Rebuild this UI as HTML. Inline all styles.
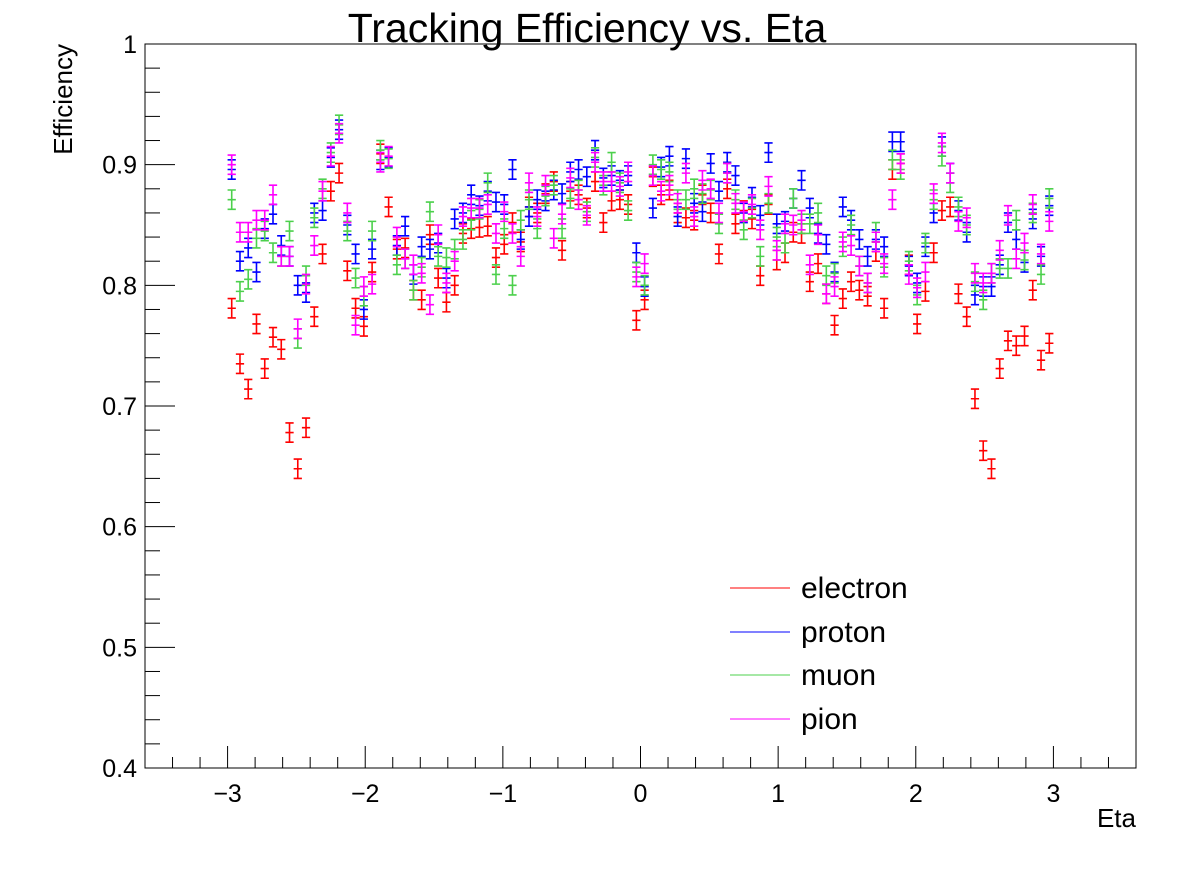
<!DOCTYPE html>
<html><head><meta charset="utf-8"><style>
body{margin:0;background:#fff}
svg{display:block;font-family:"Liberation Sans",Arial,sans-serif}
</style></head><body>
<svg id="chart" width="1196" height="872" viewBox="0 0 1196 872">
<rect width="1196" height="872" fill="#fff"/>
<text x="587" y="42" font-size="41" text-anchor="middle">Tracking Efficiency vs. Eta</text>
<rect x="145" y="44" width="991" height="724" fill="none" stroke="#000" stroke-width="1"/>
<g id="axes"></g>
<g id="marks"></g>
<text transform="translate(72,44) rotate(-90)" font-size="26" text-anchor="end">Efficiency</text>
<text x="1136" y="827" font-size="26" text-anchor="end">Eta</text>
<g font-size="30">
<line x1="730" y1="588" x2="790" y2="588" stroke="#ff0000"/><text x="801" y="598">electron</text>
<line x1="730" y1="632" x2="790" y2="632" stroke="#0000ff"/><text x="801" y="642">proton</text>
<line x1="730" y1="675" x2="790" y2="675" stroke="#4cd04c"/><text x="801" y="685">muon</text>
<line x1="730" y1="719" x2="790" y2="719" stroke="#ff00ff"/><text x="801" y="729">pion</text>
</g>
</svg>
<script>
const yTicks=[0.4,0.5,0.6,0.7,0.8,0.9,1];
const yTickLabels=["0.4","0.5","0.6","0.7","0.8","0.9","1"];
const xTicks=[-3,-2,-1,0,1,2,3];
const xTickLabels=["\u22123","\u22122","\u22121","0","1","2","3"];
const electron=[.781,.735,.714,.768,.731,.757,.747,.678,.648,.682,.774,.826,.878,.893,.812,.781,.766,.811,.909,.865,.830,.831,.796,.788,.842,.806,.786,.800,.843,.847,.848,.849,.823,.834,.852,.836,.865,.860,.876,.886,.829,.878,.875,.864,.886,.852,.870,.871,.867,.771,.788,.890,.875,.879,.860,.856,.854,.875,.860,.826,.880,.851,.862,.855,.808,.867,.821,.827,.844,.843,.803,.818,.793,.767,.789,.803,.796,.791,.828,.781,.896,.901,.817,.768,.795,.827,.862,.865,.793,.774,.706,.663,.648,.731,.754,.750,.758,.796,.738,.752];
const proton=[.896,.820,.831,.811,.847,.859,.833,.824,.800,.794,.860,.862,.906,.929,.850,.826,.780,.830,.904,.906,.833,.849,.809,.832,.830,.835,.806,.855,.860,.875,.866,.878,.869,.867,.896,.838,.857,.871,.870,.879,.876,.894,.896,.890,.912,.889,.891,.887,.891,.827,.799,.864,.898,.907,.857,.905,.868,.861,.901,.878,.902,.891,.860,.873,.858,.910,.851,.853,.872,.887,.864,.843,.834,.811,.865,.854,.838,.824,.838,.832,.919,.919,.816,.802,.832,.860,.915,.893,.862,.844,.792,.799,.799,.817,.852,.838,.819,.855,.824,.866];
const muon=[.871,.795,.805,.839,.845,.827,.824,.845,.756,.808,.856,.880,.910,.933,.845,.806,.791,.845,.912,.905,.817,.822,.796,.815,.861,.824,.823,.830,.838,.854,.863,.885,.809,.847,.800,.854,.871,.847,.874,.883,.847,.872,.879,.861,.906,.883,.902,.885,.862,.811,.800,.900,.896,.894,.871,.871,.880,.876,.879,.851,.893,.871,.846,.864,.824,.868,.840,.835,.872,.851,.851,.860,.808,.810,.832,.850,.816,.802,.844,.815,.904,.896,.820,.792,.835,.871,.907,.885,.865,.850,.803,.788,.810,.814,.814,.854,.821,.860,.809,.872];
const pion=[.900,.844,.844,.854,.854,.875,.824,.824,.764,.801,.833,.878,.907,.926,.860,.767,.799,.801,.902,.907,.840,.822,.817,.810,.784,.842,.802,.820,.857,.864,.864,.867,.843,.861,.843,.824,.885,.857,.883,.839,.859,.889,.871,.858,.902,.886,.886,.882,.894,.807,.818,.891,.878,.883,.868,.893,.857,.887,.880,.860,.893,.868,.861,.867,.846,.882,.829,.851,.850,.854,.817,.842,.793,.799,.836,.833,.816,.802,.836,.818,.871,.901,.809,.798,.811,.876,.918,.893,.853,.856,.810,.802,.810,.829,.858,.822,.835,.867,.826,.853];
const seriesNames=["electron","proton","muon","pion"];
const seriesColors=["#ff0000","#0000ff","#4cd04c","#ff00ff"];
const seriesData=[electron,proton,muon,pion];
const etaMin=-3,binWidth=0.06,errY=0.008;
const NS="http://www.w3.org/2000/svg";
const X0=145,X1=1136,Y0=768,Y1=44;
function xs(v){return X0+(v+3.6)/7.2*(X1-X0);}
function ys(v){return Y0-(v-0.4)/0.6*(Y0-Y1);}
function mk(tag,attrs,parent){const e=document.createElementNS(NS,tag);for(const k in attrs)e.setAttribute(k,attrs[k]);parent.appendChild(e);return e;}
const axes=document.getElementById('axes');
for(let k=0;k<=30;k++){const v=0.4+k*0.02;const y=ys(v);const major=k%5===0;
 mk('line',{x1:X0,y1:y,x2:X0+(major?30:15),y2:y,stroke:'#000','stroke-width':1},axes);}
yTicks.forEach((v,i)=>{const t=mk('text',{x:137,y:ys(v)+9,'font-size':25,'text-anchor':'end'},axes);t.textContent=yTickLabels[i];
 
 });
for(let k=-18;k<=18;k++){const v=k*0.2;const x=xs(v);const major=k%5===0;
 mk('line',{x1:x,y1:Y0,x2:x,y2:Y0-(major?22:11),stroke:'#000','stroke-width':1},axes);}
xTicks.forEach((v,i)=>{const t=mk('text',{x:xs(v),y:802,'font-size':25,'text-anchor':'middle'},axes);t.textContent=xTickLabels[i];
 
 });
const marks=document.getElementById('marks');
seriesData.forEach((arr,s)=>{
 const g=mk('g',{stroke:seriesColors[s],'stroke-width':1.6,fill:'none'},marks);
 
 
 arr.forEach((v,i)=>{
  const c=etaMin+binWidth*(i+0.5);
  const x=xs(c),y=ys(v),xl=xs(c-binWidth/2),xr=xs(c+binWidth/2),yt=ys(v+errY),yb=ys(v-errY);
  const p=mk('path',{d:`M${xl},${y}H${xr}M${x},${yt}V${yb}M${xl},${yt}H${xr}M${xl},${yb}H${xr}`},g);
  
  
 });
});
</script>
</body></html>
